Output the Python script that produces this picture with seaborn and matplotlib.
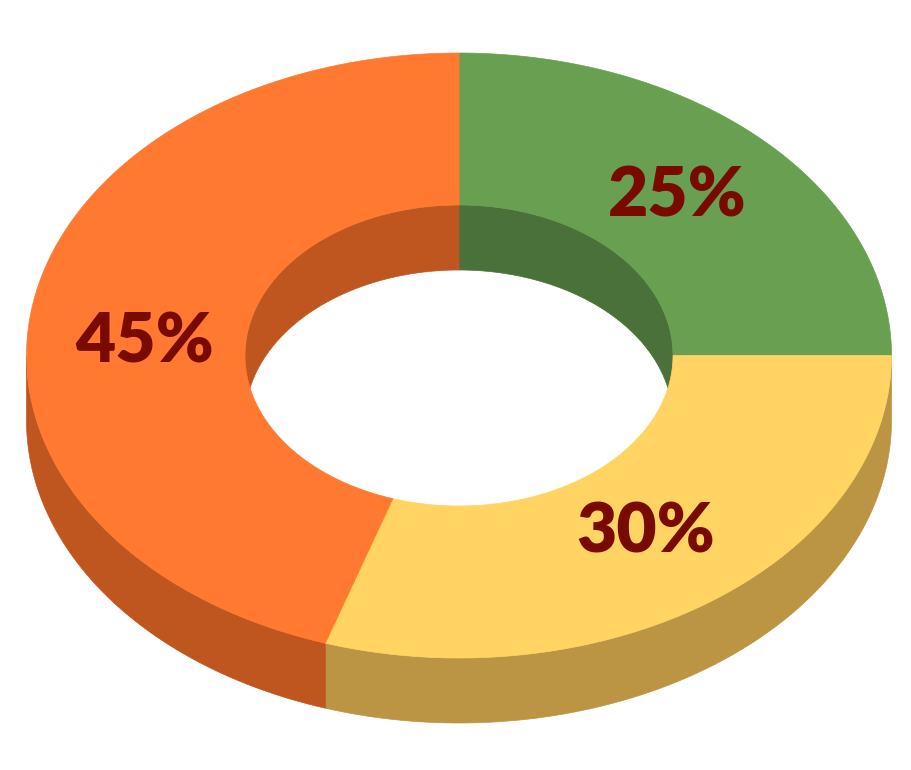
import numpy as np
import matplotlib.pyplot as plt
import seaborn as sns
from matplotlib.patches import Polygon

# data
labels = ["25%", "30%", "45%"]
shares = [25, 30, 45]
top_colors = ["#699F50", "#FFD462", "#FF7A30"]
side_colors = ["#4A7139", "#BB9543", "#C0561F"]
label_color = "#780A00"

# layout (pixels)
cx, cy = 459, 355.5
rx_out, ry_out = 432.5, 302.5
rx_in, ry_in = 214, 150.5
depth = 65
start_angle = 90
label_r = 0.728
label_shift = [1.2, 0.4, 5.7]   # degrees, nudges label along the ring

sns.set_style("white")
fig = plt.figure(figsize=(9.11, 7.70), dpi=100)
ax = fig.add_axes([0, 0, 1, 1])
ax.set_xlim(0, 911)
ax.set_ylim(770, 0)
ax.axis("off")


def arc(rx, ry, a1, a2, dy=0, n=120):
    t = np.radians(np.linspace(a1, a2, n))
    return np.column_stack([cx + rx * np.cos(t), cy - ry * np.sin(t) + dy])


def wall(rx, ry, a1, a2, color):
    top = arc(rx, ry, a1, a2)
    bot = arc(rx, ry, a2, a1, dy=depth)
    ax.add_patch(Polygon(np.vstack([top, bot]), closed=True, fc=color,
                         ec=color, lw=0.5, zorder=1))


bounds = []
a = start_angle
for s in shares:
    b = a - s / sum(shares) * 360
    bounds.append((b, a))
    a = b

# outer side walls (front half) and inner walls (back half)
for (a1, a2), col in zip(bounds, side_colors):
    for k in range(-2, 3):
        lo, hi = max(a1, k * 360 - 180), min(a2, k * 360)
        if hi > lo:
            wall(rx_out, ry_out, lo, hi, col)
        lo, hi = max(a1, k * 360), min(a2, k * 360 + 180)
        if hi > lo:
            wall(rx_in, ry_in, lo, hi, col)

# top face
for (a1, a2), col in zip(bounds, top_colors):
    pts = np.vstack([arc(rx_out, ry_out, a1, a2), arc(rx_in, ry_in, a2, a1)])
    ax.add_patch(Polygon(pts, closed=True, fc=col, ec=col, lw=0.5, zorder=2))

# labels
for (a1, a2), lab, sh in zip(bounds, labels, label_shift):
    m = np.radians((a1 + a2) / 2 + sh)
    ax.text(cx + label_r * rx_out * np.cos(m), cy - label_r * ry_out * np.sin(m),
            lab, ha="center", va="center", fontsize=50, fontweight="heavy",
            family=["Lato", "DejaVu Sans"], color=label_color, zorder=3)

fig.savefig("out.png", dpi=100, facecolor="white")
